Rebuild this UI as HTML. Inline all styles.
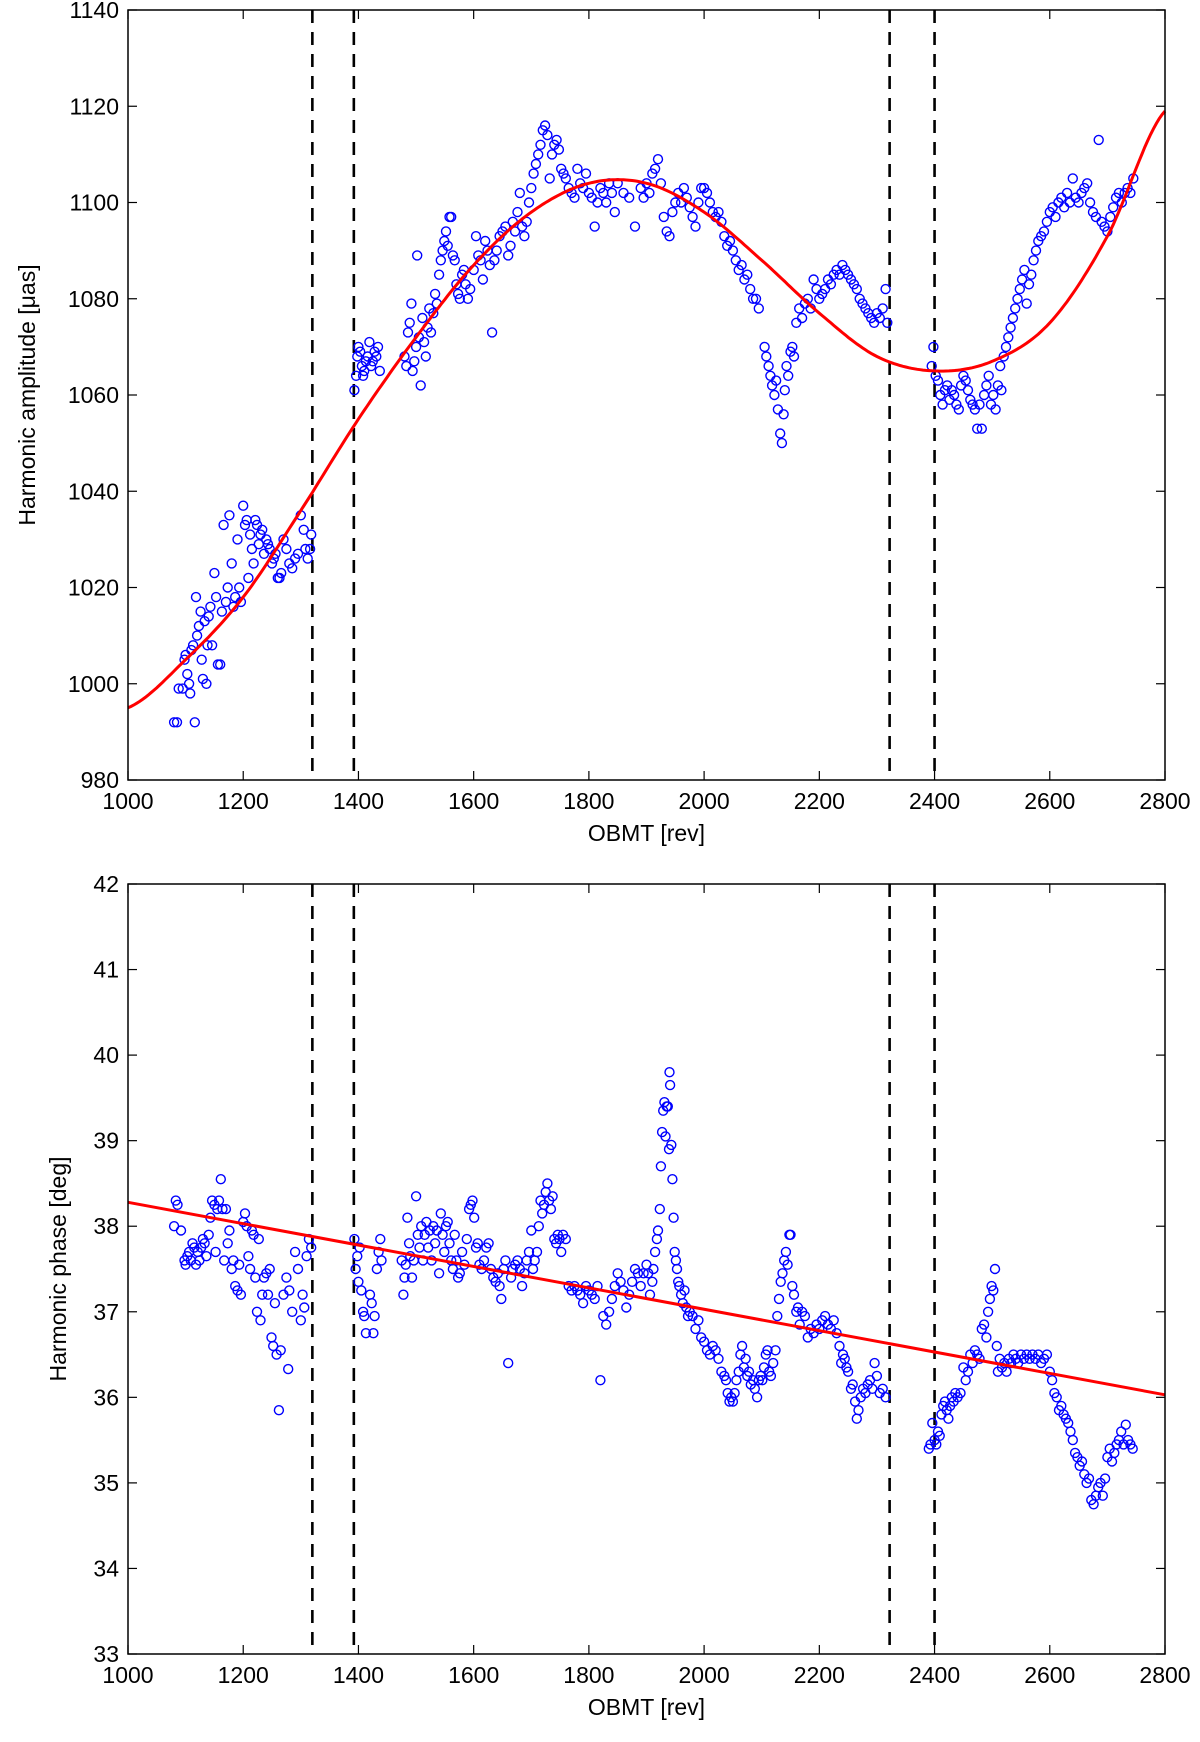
<!DOCTYPE html>
<html><head><meta charset="utf-8"><style>
html,body{margin:0;padding:0;background:#fff;}
svg{display:block;font-family:"Liberation Sans",Arial,sans-serif;}
</style></head><body>
<svg id="fig" width="1200" height="1742" viewBox="0 0 1200 1742" xmlns="http://www.w3.org/2000/svg">
<rect width="1200" height="1742" fill="#fff"/>
<g id="p1"></g>
<g id="p2"></g>
</svg>
<script>
const xTicks = [1000,1200,1400,1600,1800,2000,2200,2400,2600,2800];
const ampTicks = [980,1000,1020,1040,1060,1080,1100,1120,1140];
const phaseTicks = [33,34,35,36,37,38,39,40,41,42];
const dashedLines = [1320,1392,2322,2400];
const ampFitX = [1000,1100,1200,1300,1400,1500,1600,1700,1800,1900,2000,2100,2200,2300,2400,2500,2600,2700,2800];
const ampFitY = [995,1005,1018,1036,1055,1072,1087,1098,1104,1104,1098,1088,1077,1068,1065,1067,1075,1093,1119];
const phaseFitX = [1000,2800];
const phaseFitY = [38.28,36.03];
const ampData = [[1080,992],[1085,992],[1088,999],[1095,999],[1098,1005],[1100,1006],[1103,1002],[1106,1000],[1108,998],[1110,1007],[1113,1008],[1116,992],[1118,1018],[1120,1010],[1123,1012],[1126,1015],[1128,1005],[1130,1001],[1133,1013],[1136,1000],[1138,1008],[1140,1014],[1143,1016],[1146,1008],[1150,1023],[1153,1018],[1156,1004],[1160,1004],[1163,1015],[1166,1033],[1170,1017],[1173,1020],[1176,1035],[1180,1025],[1183,1016],[1186,1018],[1190,1030],[1193,1020],[1196,1017],[1200,1037],[1203,1033],[1206,1034],[1209,1022],[1212,1031],[1215,1028],[1218,1025],[1221,1034],[1224,1033],[1227,1029],[1230,1031],[1233,1032],[1236,1027],[1240,1030],[1243,1029],[1246,1028],[1250,1025],[1253,1026],[1256,1027],[1260,1022],[1263,1022],[1266,1023],[1270,1030],[1275,1028],[1280,1025],[1285,1024],[1290,1026],[1295,1027],[1300,1035],[1305,1032],[1308,1028],[1312,1026],[1316,1028],[1318,1031],
[1393,1061],[1396,1064],[1398,1068],[1400,1070],[1403,1069],[1406,1066],[1408,1064],[1410,1065],[1413,1067],[1416,1068],[1419,1071],[1422,1066],[1425,1067],[1428,1069],[1431,1068],[1434,1070],[1437,1065],
[1480,1068],[1483,1066],[1486,1073],[1489,1075],[1492,1079],[1494,1065],[1497,1067],[1500,1070],[1502,1089],[1505,1072],[1508,1062],[1511,1076],[1514,1071],[1517,1068],[1520,1074],[1523,1078],[1526,1073],[1530,1077],[1533,1081],[1536,1079],[1540,1085],[1543,1088],[1546,1090],[1549,1092],[1552,1094],[1555,1091],[1558,1097],[1561,1097],[1564,1089],[1567,1088],[1570,1083],[1573,1081],[1576,1080],[1580,1085],[1583,1086],[1586,1083],[1590,1080],[1594,1082],
[1600,1086],[1604,1093],[1608,1089],[1612,1088],[1616,1084],[1620,1092],[1624,1090],[1628,1087],[1632,1073],[1636,1088],[1640,1090],[1645,1093],[1650,1094],[1655,1095],[1660,1089],[1664,1091],[1668,1096],[1672,1094],[1676,1098],[1680,1102],[1684,1095],[1688,1093],[1692,1096],[1696,1100],
[1700,1103],[1704,1106],[1708,1108],[1712,1110],[1716,1112],[1720,1115],[1724,1116],[1728,1114],[1732,1105],[1736,1110],[1740,1112],[1744,1113],[1748,1111],[1752,1107],[1756,1106],[1760,1105],[1765,1103],[1770,1102],[1775,1101],[1780,1107],[1785,1104],[1790,1103],[1795,1106],[1800,1102],[1805,1101],[1810,1095],[1815,1100],[1820,1103],[1825,1102],[1830,1100],[1835,1104],[1840,1102],[1845,1098],
[1850,1104],[1860,1102],[1870,1101],[1880,1095],[1890,1103],[1895,1101],[1900,1104],[1905,1102],[1910,1106],[1915,1107],[1920,1109],[1925,1104],[1930,1097],[1935,1094],[1940,1093],[1945,1098],[1950,1100],[1955,1102],[1960,1100],[1965,1103],[1970,1101],[1975,1099],[1980,1097],[1985,1095],[1990,1100],[1995,1103],[2000,1103],[2005,1102],[2010,1100],[2015,1098],[2020,1097],[2025,1098],[2030,1096],[2035,1093],[2040,1091],[2045,1092],
[2050,1090],[2055,1088],[2060,1086],[2065,1087],[2070,1084],[2075,1085],[2080,1082],[2085,1080],[2090,1080],[2095,1078],
[2105,1070],[2108,1068],[2112,1066],[2115,1064],[2118,1062],[2122,1060],[2125,1063],[2128,1057],[2132,1052],[2135,1050],[2138,1056],[2140,1061],[2143,1066],[2146,1064],[2150,1069],[2153,1070],[2156,1068],[2160,1075],[2165,1078],[2170,1076],[2175,1079],[2180,1080],[2185,1078],[2190,1084],[2195,1082],[2200,1080],
[2205,1081],[2210,1082],[2215,1084],[2220,1083],[2225,1085],[2230,1086],[2235,1085],[2240,1087],[2245,1086],[2250,1085],[2255,1084],[2260,1083],[2265,1082],[2270,1080],[2275,1079],[2280,1078],[2285,1077],[2290,1076],[2295,1075],[2300,1077],[2305,1076],[2310,1078],[2315,1082],[2318,1075],
[2395,1066],[2398,1070],[2402,1064],[2406,1063],[2410,1060],[2414,1058],[2418,1061],[2422,1062],[2426,1059],[2430,1061],[2434,1060],[2438,1058],[2442,1057],[2446,1062],[2450,1064],[2454,1063],[2458,1061],[2462,1059],[2466,1058],[2470,1057],[2474,1053],[2478,1058],[2482,1053],[2486,1060],[2490,1062],[2494,1064],[2498,1058],[2502,1060],[2506,1057],[2510,1062],[2514,1066],[2516,1061],
[2520,1068],[2524,1070],[2528,1072],[2532,1074],[2536,1076],[2540,1078],[2544,1080],[2548,1082],[2552,1084],[2556,1086],[2560,1079],[2564,1083],[2568,1085],[2572,1088],[2576,1090],[2580,1092],[2585,1093],[2590,1094],[2595,1096],[2600,1098],[2605,1099],[2610,1097],[2615,1100],[2620,1101],[2625,1099],[2630,1102],[2635,1100],[2640,1105],[2645,1101],[2650,1100],[2655,1102],[2660,1103],[2665,1104],[2670,1100],[2675,1098],[2680,1097],[2685,1113],[2690,1096],[2695,1095],[2700,1094],[2705,1097],[2710,1099],[2715,1101],[2720,1102],[2725,1100],[2730,1102],[2735,1103],[2740,1102],[2745,1105]];
const phaseData = [[1080,38.0],[1083,38.3],[1086,38.25],[1092,37.95],[1098,37.6],[1100,37.55],[1103,37.65],[1106,37.7],[1109,37.6],[1112,37.8],[1115,37.75],[1118,37.55],[1121,37.7],[1124,37.6],[1127,37.75],[1130,37.85],[1133,37.8],[1136,37.65],[1140,37.9],[1143,38.1],[1146,38.3],[1150,38.25],[1152,37.7],[1155,38.2],[1158,38.3],[1161,38.55],[1164,38.2],[1167,37.6],[1170,38.2],[1173,37.8],[1176,37.95],[1180,37.5],[1183,37.6],[1186,37.3],[1190,37.25],[1193,37.55],[1196,37.2],[1200,38.05],[1203,38.15],[1206,38.0],[1209,37.65],[1212,37.5],[1215,37.95],[1218,37.9],[1221,37.4],[1224,37.0],[1227,37.85],[1230,36.9],[1233,37.2],[1236,37.4],[1240,37.45],[1243,37.2],[1246,37.5],[1249,36.7],[1252,36.6],[1255,37.1],[1258,36.5],[1262,35.85],[1265,36.55],[1270,37.2],[1275,37.4],[1278,36.33],[1280,37.25],[1285,37.0],[1290,37.7],[1295,37.5],[1300,36.9],[1303,37.2],[1306,37.05],[1310,37.65],[1314,37.85],[1318,37.75],
[1393,37.85],[1395,37.5],[1398,37.65],[1400,37.35],[1402,37.75],[1405,37.25],[1408,37.0],[1410,36.95],[1413,36.75],[1420,37.2],[1423,37.1],[1426,36.75],[1428,36.95],[1432,37.5],[1435,37.7],[1438,37.85],[1440,37.6],
[1475,37.6],[1478,37.2],[1480,37.4],[1482,37.55],[1485,38.1],[1488,37.8],[1490,37.65],[1493,37.4],[1496,37.6],[1500,38.35],[1503,37.9],[1506,37.75],[1509,38.0],[1512,37.6],[1515,37.9],[1518,38.05],[1521,37.75],[1524,37.95],[1527,37.6],[1530,38.0],[1533,37.8],[1536,37.95],[1540,37.45],[1543,38.15],[1546,37.9],[1549,37.7],[1552,38.0],[1555,38.05],[1558,37.8],[1561,37.6],[1564,37.5],[1567,37.9],[1570,37.6],[1573,37.4],[1576,37.45],[1580,37.7],[1584,37.55],[1588,37.85],[1592,38.2],[1595,38.25],[1598,38.3],[1601,38.1],[1604,37.75],[1607,37.8],[1610,37.55],[1614,37.5],[1618,37.6],[1622,37.75],[1626,37.8],[1630,37.5],[1634,37.4],[1638,37.35],[1642,37.45],[1645,37.3],[1648,37.15],[1652,37.5],[1655,37.6],[1660,36.4],[1665,37.4],[1668,37.5],[1672,37.55],[1676,37.6],[1680,37.5],[1684,37.3],[1688,37.45],[1692,37.6],[1696,37.7],[1700,37.95],[1703,37.5],[1706,37.6],[1710,37.7],[1713,38.0],[1716,38.3],[1719,38.15],[1722,38.25],[1725,38.4],[1728,38.5],[1731,38.3],[1734,38.2],[1737,38.35],[1740,37.85],[1743,37.8],[1746,37.9],[1749,37.85],[1752,37.7],[1755,37.9],[1760,37.85],[1765,37.3],[1770,37.25],[1775,37.3],[1780,37.25],[1785,37.2],[1790,37.1],[1795,37.3],[1800,37.25],[1805,37.2],[1810,37.15],[1815,37.3],[1820,36.2],[1825,36.95],[1830,36.85],[1835,37.0],[1840,37.15],[1845,37.3],[1850,37.45],[1855,37.35],[1860,37.25],[1865,37.05],[1870,37.2],[1875,37.35],[1880,37.5],[1885,37.45],[1890,37.3],[1895,37.45],[1900,37.55],[1903,37.45],[1906,37.2],[1910,37.35],
[1912,37.5],[1915,37.7],[1918,37.85],[1920,37.95],[1923,38.2],[1925,38.7],[1927,39.1],[1929,39.35],[1931,39.45],[1933,39.05],[1935,39.4],[1937,39.4],[1939,38.9],[1940,39.8],[1941,39.65],[1943,38.95],[1945,38.55],[1947,38.1],[1949,37.7],[1951,37.6],[1953,37.5],[1955,37.35],[1957,37.3],[1960,37.2],[1963,37.1],[1966,37.25],[1969,37.05],[1972,36.95],[1975,37.0],
[1980,36.95],[1985,36.8],[1990,36.9],[1995,36.7],[2000,36.65],[2005,36.55],[2010,36.5],[2015,36.6],[2020,36.55],[2025,36.45],[2030,36.3],[2035,36.25],[2038,36.2],[2041,36.05],[2044,35.95],[2047,36.0],[2050,35.95],[2053,36.05],[2056,36.2],[2060,36.3],[2063,36.5],[2066,36.6],[2069,36.35],[2072,36.45],[2075,36.25],[2078,36.3],[2081,36.15],[2085,36.2],[2088,36.1],[2092,36.0],[2095,36.2],[2098,36.25],[2101,36.2],[2104,36.35],[2107,36.5],[2110,36.55],[2113,36.3],[2116,36.25],[2120,36.4],[2124,36.55],[2127,36.95],[2130,37.15],[2133,37.35],[2136,37.45],[2139,37.6],[2142,37.7],[2145,37.55],[2148,37.9],[2150,37.9],[2153,37.3],[2156,37.2],[2160,37.0],[2163,37.05],[2166,36.85],[2170,37.0],[2175,36.95],[2180,36.7],[2185,36.8],[2190,36.75],[2195,36.85],[2200,36.8],[2205,36.9],[2210,36.95],[2215,36.85],[2220,36.8],[2225,36.9],[2230,36.75],[2235,36.6],[2238,36.4],[2241,36.5],[2244,36.45],[2247,36.35],[2250,36.3],[2255,36.1],[2258,36.15],[2262,35.95],[2265,35.75],[2268,35.85],[2272,36.0],[2276,36.1],[2280,36.05],[2284,36.15],[2288,36.2],[2292,36.1],[2296,36.4],[2300,36.25],[2305,36.05],[2310,36.1],[2315,36.0],
[2390,35.4],[2393,35.45],[2396,35.7],[2400,35.5],[2403,35.45],[2406,35.6],[2409,35.55],[2412,35.8],[2415,35.9],[2418,35.95],[2421,35.85],[2424,35.75],[2427,35.9],[2430,36.0],[2433,35.95],[2436,36.05],[2440,36.0],[2445,36.05],[2450,36.35],[2454,36.2],[2458,36.3],[2462,36.5],[2466,36.4],[2470,36.55],[2474,36.5],[2478,36.45],[2482,36.8],[2486,36.85],[2490,36.7],[2493,37.0],[2496,37.15],[2499,37.3],[2502,37.25],[2505,37.5],[2508,36.6],[2510,36.3],[2513,36.45],[2517,36.35],[2521,36.4],[2525,36.3],[2529,36.45],[2533,36.4],[2537,36.5],[2541,36.45],[2545,36.4],[2550,36.5],[2555,36.45],[2560,36.5],[2565,36.45],[2570,36.5],[2575,36.45],[2580,36.5],[2585,36.4],[2590,36.45],[2595,36.5],[2600,36.3],[2604,36.2],[2608,36.05],[2612,36.0],[2616,35.85],[2620,35.9],[2624,35.8],[2628,35.75],[2632,35.7],[2636,35.6],[2640,35.5],[2644,35.35],[2648,35.3],[2652,35.2],[2656,35.25],[2660,35.1],[2664,35.0],[2668,35.05],[2672,34.8],[2676,34.75],[2680,34.85],[2684,34.95],[2688,35.0],[2692,34.85],[2696,35.05],[2700,35.3],[2704,35.4],[2708,35.25],[2712,35.35],[2716,35.45],[2720,35.5],[2724,35.6],[2728,35.45],[2732,35.68],[2736,35.5],[2740,35.45],[2744,35.4]];

const NS = "http://www.w3.org/2000/svg";
function mk(parent, tag, attrs){const e=document.createElementNS(NS,tag);for(const k in attrs)e.setAttribute(k,attrs[k]);parent.appendChild(e);return e;}
const L=128,R=1165;
function sx(v){return L+(v-1000)/(2800-1000)*(R-L);}

function drawPanel(g, top, bottom, ymin, ymax, yticks, data, fitX, fitY, ylabel, ylabelX, smooth, prefix){
  const sy=v=>bottom-(v-ymin)/(ymax-ymin)*(bottom-top);
  dashedLines.forEach(d=>{
    const l=mk(g,'line',{x1:sx(d),x2:sx(d),y1:top,y2:bottom,stroke:'#000','stroke-width':2.6,'stroke-dasharray':'13,9'});
    
    
  });
  const pg=mk(g,'g',{});
  
  
  data.forEach(p=>{
    const c=mk(pg,'circle',{cx:sx(p[0]).toFixed(1),cy:sy(p[1]).toFixed(1),r:4.5,fill:'none',stroke:'#0000ff','stroke-width':1.4});
    
    
  });
  let d='';
  if(smooth){
    const n=fitX.length;
    for(let i=0;i<n-1;i++){
      const y0=fitY[Math.max(i-1,0)],y1=fitY[i],y2=fitY[i+1],y3=fitY[Math.min(i+2,n-1)];
      for(let s=0;s<20;s++){
        const t=s/20;
        const y=0.5*((2*y1)+(-y0+y2)*t+(2*y0-5*y1+4*y2-y3)*t*t+(-y0+3*y1-3*y2+y3)*t*t*t);
        const x=fitX[i]+(fitX[i+1]-fitX[i])*t;
        d+=(d?'L':'M')+sx(x).toFixed(1)+','+sy(y).toFixed(1);
      }
    }
    d+='L'+sx(fitX[n-1]).toFixed(1)+','+sy(fitY[n-1]).toFixed(1);
  } else {
    fitX.forEach((x,i)=>{d+=(i?'L':'M')+sx(x).toFixed(1)+','+sy(fitY[i]).toFixed(1);});
  }
  const fl=mk(g,'path',{d:d,fill:'none',stroke:'#ff0000','stroke-width':3});
  
  
  const box=mk(g,'rect',{x:L,y:top,width:R-L,height:bottom-top,fill:'none',stroke:'#000','stroke-width':1.5});
  
  
  xTicks.forEach(v=>{
    const x=sx(v);
    mk(g,'line',{x1:x,x2:x,y1:bottom,y2:bottom-9,stroke:'#000','stroke-width':1.2});
    mk(g,'line',{x1:x,x2:x,y1:top,y2:top+9,stroke:'#000','stroke-width':1.2});
    const t=mk(g,'text',{x:x,y:bottom+29,'text-anchor':'middle','font-size':23,fill:'#000'});
    t.textContent=v;
    
    
  });
  yticks.forEach(v=>{
    const y=sy(v);
    mk(g,'line',{x1:L,x2:L+9,y1:y,y2:y,stroke:'#000','stroke-width':1.2});
    mk(g,'line',{x1:R,x2:R-9,y1:y,y2:y,stroke:'#000','stroke-width':1.2});
    const t=mk(g,'text',{x:L-9,y:y+8,'text-anchor':'end','font-size':23,fill:'#000'});
    t.textContent=v;
    
    
  });
  const xl=mk(g,'text',{x:(L+R)/2,y:bottom+61,'text-anchor':'middle','font-size':23,fill:'#000'});
  xl.textContent='OBMT [rev]';
  
  
  const cy=(top+bottom)/2;
  const yl=mk(g,'text',{x:ylabelX,y:cy,'text-anchor':'middle','font-size':23,fill:'#000',transform:'rotate(-90 '+ylabelX+' '+cy+')'});
  yl.textContent=ylabel;
  
  
}
drawPanel(document.getElementById('p1'),10,780,980,1140,ampTicks,ampData,ampFitX,ampFitY,'Harmonic amplitude [\u03BCas]',35,true,'amplitude');
drawPanel(document.getElementById('p2'),884,1654,33,42,phaseTicks,phaseData,phaseFitX,phaseFitY,'Harmonic phase [deg]',66,false,'phase');
</script>
</body></html>
